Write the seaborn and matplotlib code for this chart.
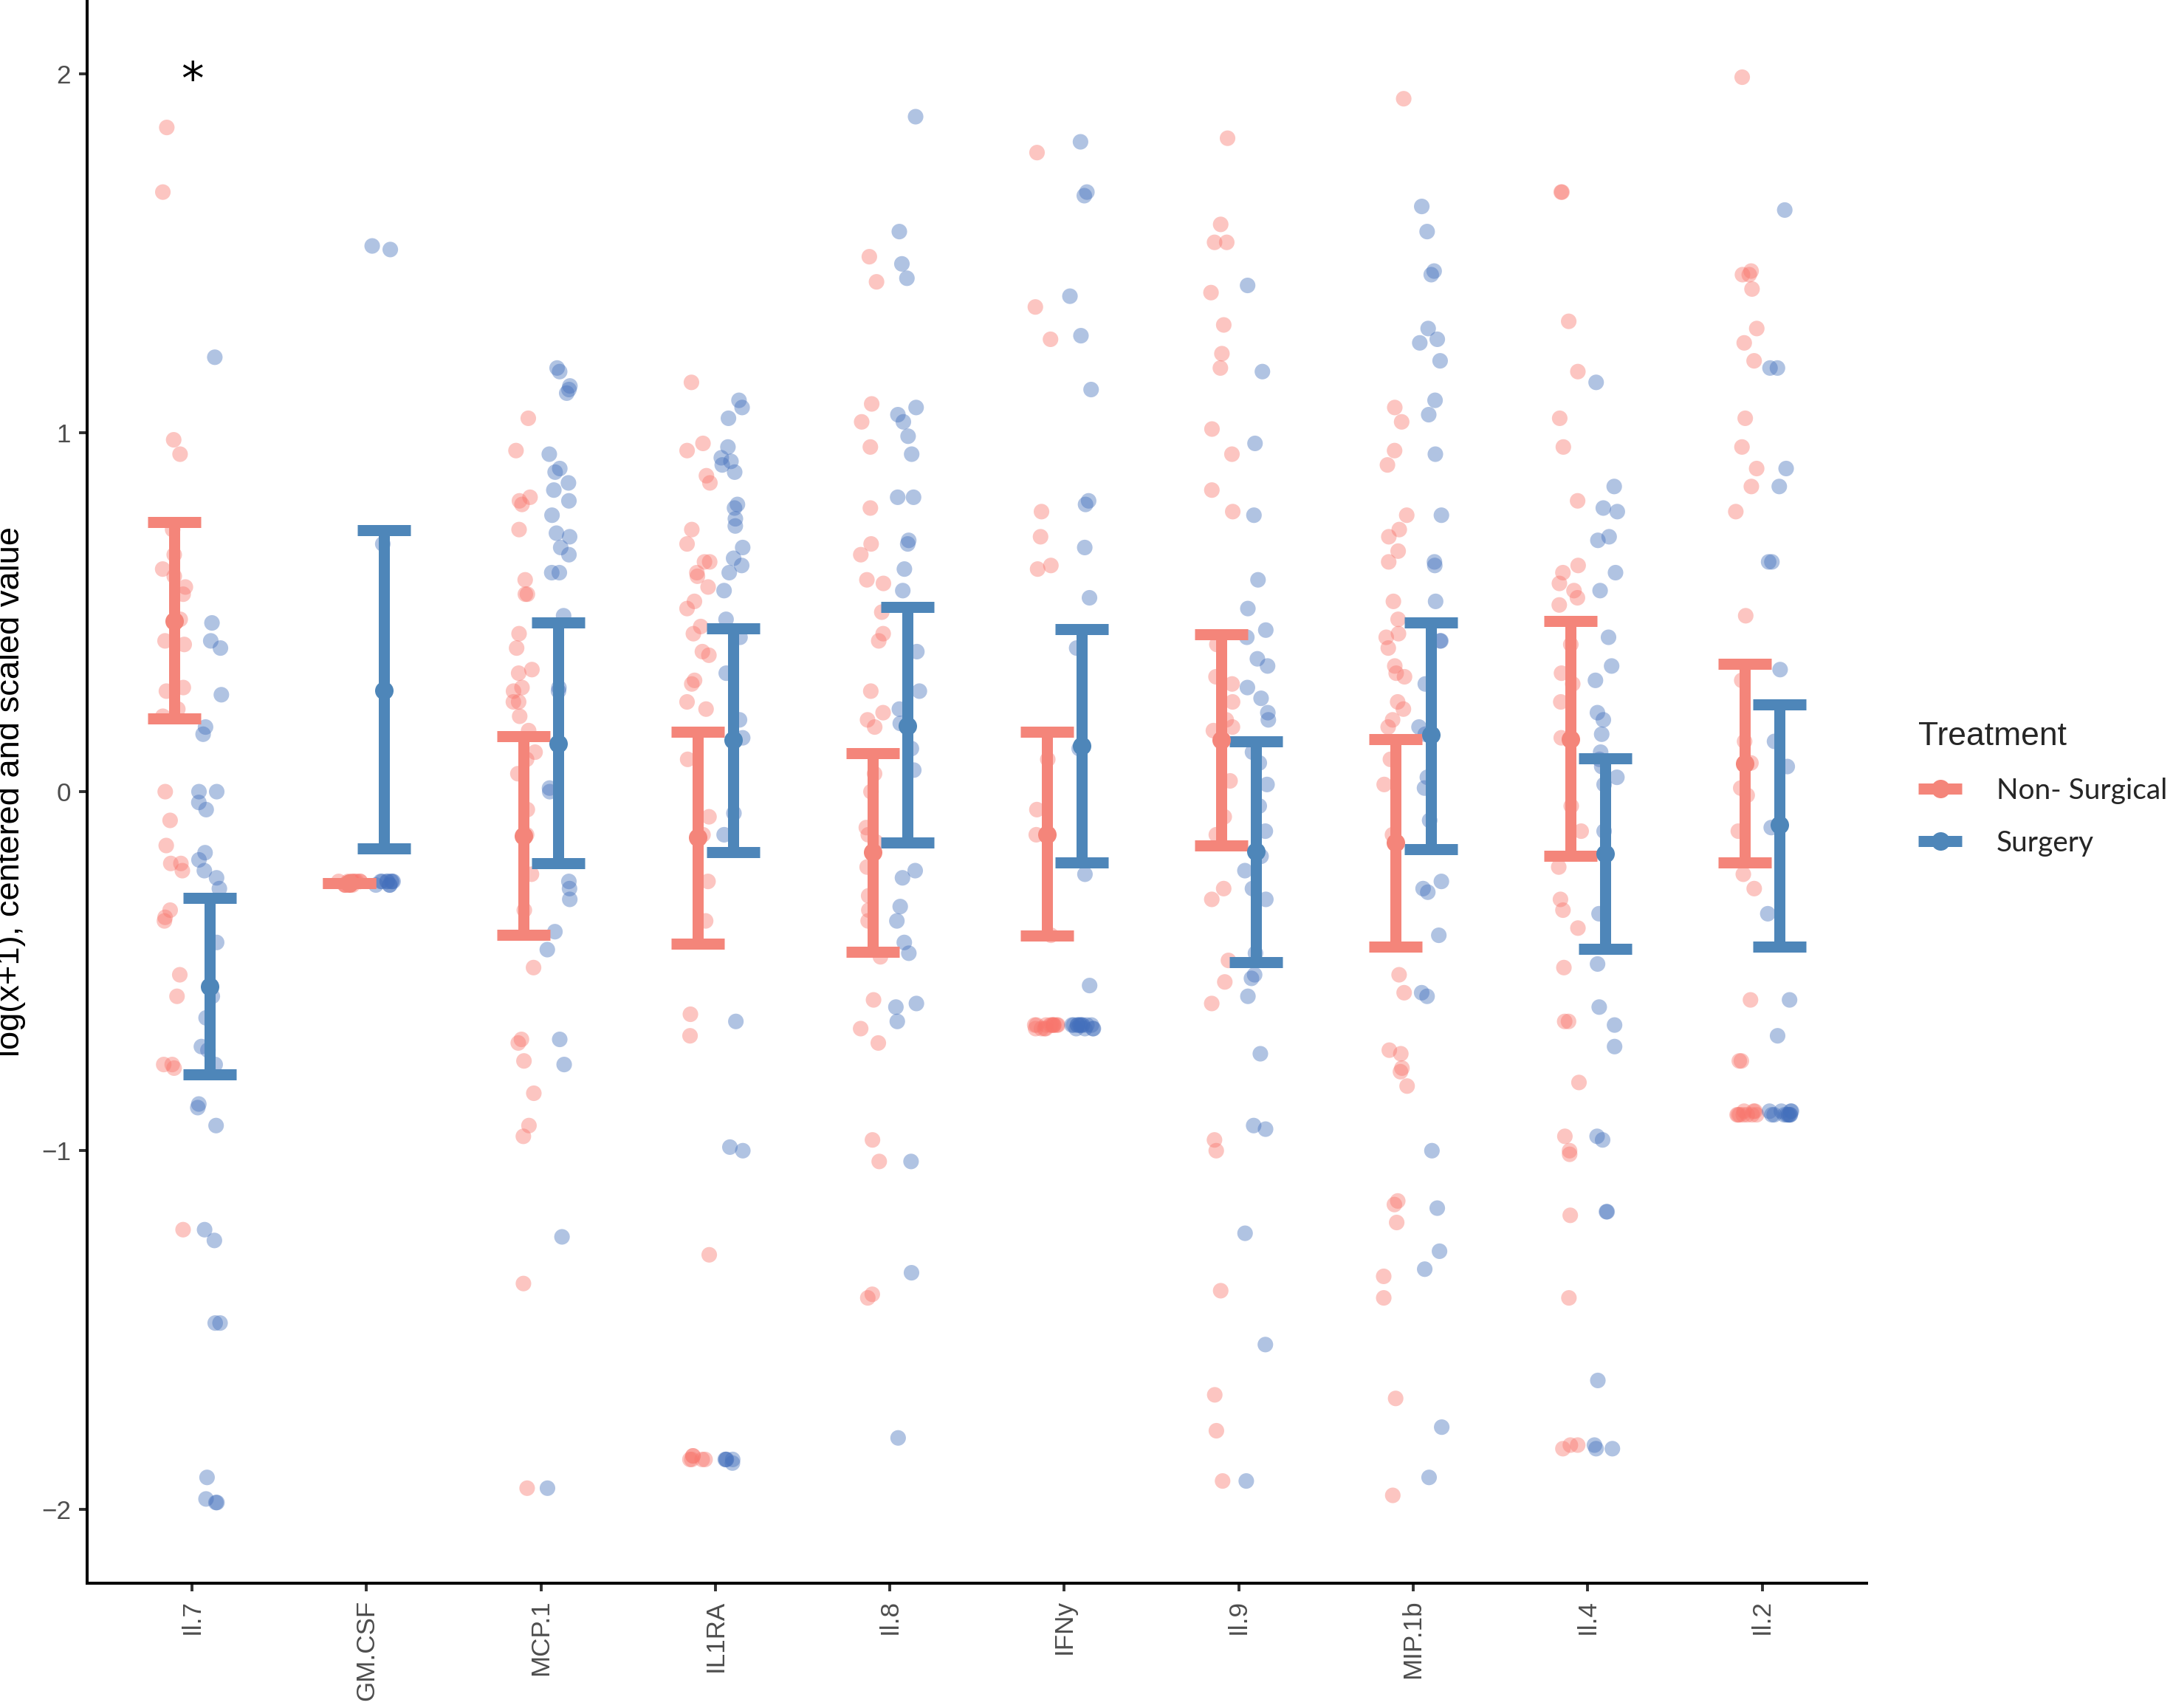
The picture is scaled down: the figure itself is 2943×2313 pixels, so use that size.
import numpy as np
import pandas as pd
import seaborn as sns
import matplotlib.pyplot as plt
from matplotlib.lines import Line2D

cytokines = ['Il.7', 'GM.CSF', 'MCP.1', 'IL1RA', 'Il.8', 'IFNy', 'Il.9', 'MIP.1b', 'Il.4', 'Il.2']
groups = ['Non- Surgical', 'Surgery']

# log(x+1), centered and scaled values
il7_ns = [1.85, 1.67, 0.98, 0.94, 0.73, 0.66, 0.62, 0.60, 0.57, 0.55, 0.48, 0.42, 0.41, 0.29, 0.28,
          0.23, 0.21, 0.00, -0.08, -0.15, -0.20, -0.22, -0.20, -0.33, -0.35, -0.36, -0.51, -0.57,
          -0.76, -0.77, -0.76, -1.22]
il7_s = [1.21, 0.47, 0.42, 0.40, 0.27, 0.18, 0.16, 0.00, -0.03, -0.05, 0.00, -0.17, -0.19, -0.22,
         -0.24, -0.27, -0.42, -0.54, -0.57, -0.63, -0.71, -0.72, -0.76, -0.87, -0.88, -0.93, -1.22,
         -1.25, -1.48, -1.48, -1.91, -1.97, -1.98, -1.98]
gmcsf_ns = [-0.25, -0.25, -0.26, -0.25, -0.26, -0.25, -0.25, -0.26, -0.25, -0.26, -0.25, -0.25]
gmcsf_s = [1.52, 1.51, 0.69, -0.25, -0.26, -0.25, -0.25, -0.26, -0.25, -0.25, -0.26, -0.25, -0.25]
mcp1_ns = [1.04, 0.95, 0.82, 0.81, 0.80, 0.73, 0.59, 0.55, 0.55, 0.44, 0.40, 0.34, 0.33, 0.29, 0.28,
           0.25, 0.25, 0.21, 0.17, 0.11, 0.09, 0.05, -0.05, -0.12, -0.23, -0.33, -0.49, -0.69, -0.70,
           -0.75, -0.84, -0.93, -0.96, -1.37, -1.94]
mcp1_s = [1.18, 1.17, 1.13, 1.12, 1.11, 0.94, 0.90, 0.89, 0.86, 0.84, 0.81, 0.77, 0.72, 0.71, 0.68,
          0.66, 0.61, 0.61, 0.49, 0.29, 0.28, 0.01, 0.00, -0.25, -0.27, -0.30, -0.39, -0.44, -0.69,
          -0.76, -1.24, -1.94]
il1ra_ns = [1.14, 0.97, 0.95, 0.88, 0.86, 0.73, 0.69, 0.64, 0.64, 0.61, 0.60, 0.57, 0.53, 0.51, 0.46,
            0.44, 0.39, 0.38, 0.31, 0.30, 0.25, 0.23, 0.09, -0.07, -0.12, -0.25, -0.36, -0.62, -0.68,
            -1.29, -1.85, -1.86, -1.86, -1.85, -1.86, -1.86]
il1ra_s = [1.09, 1.07, 1.04, 0.96, 0.93, 0.92, 0.91, 0.89, 0.80, 0.79, 0.76, 0.74, 0.68, 0.65, 0.63,
           0.61, 0.56, 0.48, 0.43, 0.33, 0.20, 0.15, -0.06, -0.12, -0.64, -0.99, -1.00, -1.86, -1.86,
           -1.87, -1.86, -1.86]
il8_ns = [1.49, 1.42, 1.08, 1.03, 0.96, 0.79, 0.69, 0.66, 0.59, 0.58, 0.50, 0.44, 0.42, 0.28, 0.22,
          0.20, 0.18, 0.05, 0.00, -0.10, -0.12, -0.14, -0.21, -0.29, -0.33, -0.36, -0.46, -0.58, -0.66,
          -0.70, -0.97, -1.03, -1.40, -1.41]
il8_s = [1.88, 1.56, 1.47, 1.43, 1.07, 1.05, 1.03, 0.99, 0.94, 0.82, 0.82, 0.70, 0.69, 0.62, 0.56,
         0.39, 0.28, 0.23, 0.19, 0.12, 0.06, -0.22, -0.24, -0.32, -0.36, -0.42, -0.45, -0.59, -0.60,
         -0.64, -1.03, -1.34, -1.80]
ifny_ns = [1.78, 1.35, 1.26, 0.78, 0.71, 0.63, 0.62, 0.09, -0.05, -0.12, -0.40, -0.65, -0.65, -0.66,
           -0.65, -0.65, -0.66, -0.65, -0.65, -0.66, -0.65, -0.65, -0.66, -0.65, -0.65]
ifny_s = [1.81, 1.67, 1.66, 1.38, 1.27, 1.12, 0.81, 0.80, 0.68, 0.54, 0.40, 0.12, -0.23, -0.54, -0.65,
          -0.65, -0.66, -0.65, -0.65, -0.66, -0.65, -0.65, -0.66, -0.65, -0.65, -0.66, -0.65, -0.65]
il9_ns = [1.82, 1.58, 1.53, 1.53, 1.39, 1.30, 1.22, 1.18, 1.01, 0.94, 0.84, 0.78, 0.41, 0.32, 0.30,
          0.25, 0.20, 0.18, 0.17, 0.03, -0.07, -0.12, -0.27, -0.30, -0.47, -0.53, -0.59, -0.97, -1.00,
          -1.39, -1.68, -1.78, -1.92]
il9_s = [1.41, 1.17, 0.97, 0.77, 0.59, 0.51, 0.45, 0.43, 0.37, 0.35, 0.29, 0.26, 0.22, 0.20, 0.11,
         0.08, 0.02, -0.04, -0.11, -0.18, -0.22, -0.27, -0.30, -0.45, -0.51, -0.52, -0.57, -0.73, -0.93,
         -0.94, -1.23, -1.54, -1.92]
mip1b_ns = [1.93, 1.07, 1.03, 0.95, 0.91, 0.77, 0.73, 0.71, 0.67, 0.64, 0.53, 0.48, 0.44, 0.43, 0.40,
            0.35, 0.33, 0.32, 0.25, 0.23, 0.20, 0.18, 0.09, 0.02, -0.12, -0.51, -0.56, -0.72, -0.73,
            -0.77, -0.78, -0.82, -1.14, -1.15, -1.20, -1.35, -1.41, -1.69, -1.96]
mip1b_s = [1.63, 1.56, 1.45, 1.44, 1.29, 1.26, 1.25, 1.20, 1.09, 1.05, 0.94, 0.77, 0.64, 0.63, 0.53,
           0.42, 0.42, 0.30, 0.18, 0.16, 0.04, 0.01, -0.08, -0.25, -0.27, -0.28, -0.40, -0.56, -0.57,
           -1.00, -1.16, -1.28, -1.33, -1.77, -1.91]
il4_ns = [1.67, 1.67, 1.31, 1.17, 1.04, 0.96, 0.81, 0.63, 0.61, 0.58, 0.56, 0.54, 0.52, 0.41, 0.33,
          0.30, 0.25, 0.15, -0.04, -0.11, -0.21, -0.30, -0.33, -0.38, -0.49, -0.64, -0.64, -0.81, -0.96,
          -1.00, -1.01, -1.18, -1.41, -1.82, -1.83, -1.82]
il4_s = [1.14, 0.85, 0.79, 0.78, 0.71, 0.70, 0.61, 0.56, 0.43, 0.35, 0.31, 0.22, 0.20, 0.16, 0.11,
         0.09, 0.07, 0.04, 0.02, -0.11, -0.34, -0.48, -0.60, -0.65, -0.71, -0.96, -0.97, -1.17, -1.17,
         -1.64, -1.82, -1.83, -1.83]
il2_ns = [1.99, 1.45, 1.44, 1.44, 1.40, 1.29, 1.25, 1.20, 1.04, 0.96, 0.90, 0.85, 0.78, 0.49, 0.31,
          0.14, 0.08, 0.01, -0.01, -0.11, -0.23, -0.27, -0.58, -0.75, -0.75, -0.90, -0.89, -0.90, -0.90,
          -0.89, -0.90, -0.90, -0.89, -0.90, -0.90]
il2_s = [1.62, 1.18, 1.18, 0.90, 0.85, 0.64, 0.64, 0.34, 0.14, 0.07, -0.10, -0.34, -0.58, -0.68, -0.90,
         -0.89, -0.90, -0.90, -0.89, -0.90, -0.90, -0.89, -0.90, -0.90, -0.89, -0.90]

nonsurg = [il7_ns, gmcsf_ns, mcp1_ns, il1ra_ns, il8_ns, ifny_ns, il9_ns, mip1b_ns, il4_ns, il2_ns]
surg = [il7_s, gmcsf_s, mcp1_s, il1ra_s, il8_s, ifny_s, il9_s, mip1b_s, il4_s, il2_s]

# error bars: centre point and limits
ns_mean = [0.475, -0.254, -0.124, -0.127, -0.169, -0.119, 0.144, -0.141, 0.147, 0.079]
ns_low = [0.203, -0.254, -0.398, -0.424, -0.446, -0.401, -0.150, -0.432, -0.178, -0.198]
ns_high = [0.751, -0.254, 0.155, 0.167, 0.107, 0.167, 0.438, 0.147, 0.475, 0.356]
s_mean = [-0.542, 0.282, 0.133, 0.144, 0.184, 0.127, -0.167, 0.158, -0.172, -0.093]
s_low = [-0.788, -0.158, -0.200, -0.169, -0.141, -0.198, -0.475, -0.161, -0.438, -0.432]
s_high = [-0.297, 0.729, 0.472, 0.455, 0.514, 0.452, 0.141, 0.472, 0.093, 0.243]

point_colors = {'Non- Surgical': '#F8766D', 'Surgery': '#4470BC'}
bar_colors = {'Non- Surgical': '#F4857A', 'Surgery': '#4E86B9'}
dodge = 0.1

np.random.seed(11)
sns.set_style('ticks')
plt.rcParams['font.family'] = ['Liberation Sans', 'DejaVu Sans']

rows = []
for i, (ns, s) in enumerate(zip(nonsurg, surg)):
    rows += [(i - dodge, v, groups[0]) for v in ns]
    rows += [(i + dodge, v, groups[1]) for v in s]
df = pd.DataFrame(rows, columns=['pos', 'value', 'Treatment'])

fig = plt.figure(figsize=(14.715, 11.565), dpi=200)
ax = fig.add_axes([0.0402, 0.073, 0.8189, 0.927])

sns.stripplot(data=df, x='pos', y='value', hue='Treatment', palette=point_colors,
              native_scale=True, orient='x', jitter=0.35, size=7.6, alpha=0.42,
              linewidth=0, legend=False, ax=ax, zorder=1)

xs = np.arange(len(cytokines))
for g, mean, low, high, off in [(groups[0], ns_mean, ns_low, ns_high, -dodge),
                                (groups[1], s_mean, s_low, s_high, dodge)]:
    mean = np.array(mean)
    yerr = [mean - np.array(low), np.array(high) - mean]
    ax.errorbar(xs + off, mean, yerr=yerr, fmt='o', color=bar_colors[g], ecolor=bar_colors[g],
                elinewidth=5.4, capsize=12.8, capthick=5.4, markersize=8, zorder=3)

ax.annotate('*', xy=(0, 2.0), xytext=(0, -10), textcoords='offset points', ha='center',
            va='baseline', fontsize=22, family='DejaVu Sans', color='black')

ax.set_xlim(-0.6, 9.6)
ax.set_ylim(-2.205, 2.205)
ax.set_xticks(xs)
ax.set_xticklabels(cytokines, rotation=90)
ax.set_yticks([-2, -1, 0, 1, 2])
ax.set_xlabel('')
ax.set_ylabel('log(x+1), centered and scaled value', fontsize=16.3, color='black')
ax.yaxis.set_label_coords(-0.0345, 0.5)
ax.tick_params(axis='both', length=4, width=1.4, color='#333333', labelsize=12.6,
               labelcolor='#4D4D4D', pad=4)
sns.despine(ax=ax)
for side in ['left', 'bottom']:
    ax.spines[side].set_linewidth(1.45)
    ax.spines[side].set_color('black')

handles = [Line2D([], [], color=bar_colors[g], lw=5.4, marker='o', markersize=8,
                  solid_capstyle='butt') for g in groups]
fig.legend(handles, groups, title='Treatment', loc='upper left',
           bbox_to_anchor=(2598 / 2943, 1 - 977 / 2313), frameon=False, borderpad=0,
           borderaxespad=0, handlelength=1.52, handletextpad=1.2, labelspacing=0.9,
           prop={'family': 'Lato', 'size': 14},
           title_fontproperties={'family': 'Liberation Sans', 'size': 16}, alignment='left')

fig.savefig('out.png', dpi=200, facecolor='white')
